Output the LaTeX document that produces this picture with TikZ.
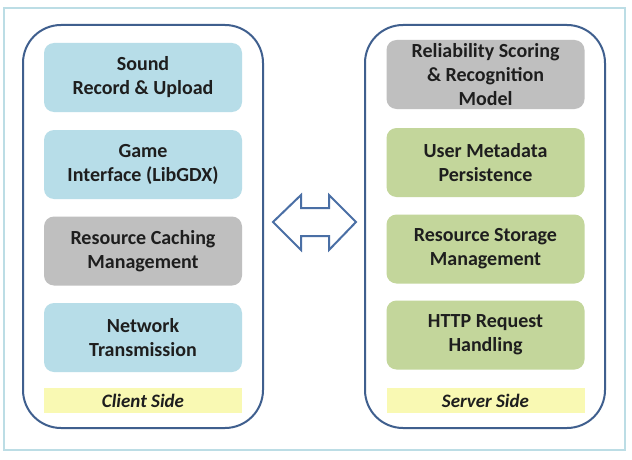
\documentclass[tikz,border=0pt]{standalone}
\usepackage{fontspec}
\setmainfont{Carlito}
\definecolor{frameblue}{HTML}{BCDDE5}
\definecolor{panelblue}{HTML}{3F5F8E}
\definecolor{arrowblue}{HTML}{4A6FA5}
\definecolor{boxblue}{HTML}{B7DDE8}
\definecolor{boxgray}{HTML}{BFBFBF}
\definecolor{boxgreen}{HTML}{C3D69B}
\definecolor{boxyellow}{HTML}{F9F9B3}
\definecolor{txt}{HTML}{1E1E1E}
\tikzset{
  panel/.style={draw=panelblue, line width=2pt, rounded corners=38pt, minimum width=240pt, minimum height=403pt, fill=white},
  block/.style={rounded corners=10pt, minimum width=198pt, minimum height=69pt, align=center, text=txt,
    font=\fontsize{20}{24}\selectfont\bfseries, inner sep=0pt},
  bluebox/.style={block, fill=boxblue},
  graybox/.style={block, fill=boxgray},
  greenbox/.style={block, fill=boxgreen},
  sidelabel/.style={fill=boxyellow, minimum width=198pt, minimum height=25pt, inner sep=0pt, text=txt,
    font=\fontsize{19}{22}\selectfont\bfseries\itshape},
}
\begin{document}
\begin{tikzpicture}[x=1pt,y=-1pt]
\useasboundingbox (0,0) rectangle (632,460);
\fill[white] (0,0) rectangle (632,460);
\node[draw=frameblue, line width=2pt, minimum width=621pt, minimum height=442pt, inner sep=0pt] (frame) at (314.5,229) {};
\node[panel] (client) at (143,226.5) {};
\node[panel] (server) at (485,226.5) {};
\node[bluebox] (sound) at (143,77.5) {Sound\\Record \& Upload};
\node[bluebox] (game) at (143,164.5) {Game\\Interface (LibGDX)};
\node[graybox] (cache) at (143,251) {Resource Caching\\Management};
\node[bluebox] (net) at (143,337.5) {Network\\Transmission};
\node[sidelabel] (clientlbl) at (143,400.5) {Client Side};
\node[graybox] (score) at (485.5,74.5) {Reliability Scoring\\\& Recognition\\Model};
\node[greenbox] (meta) at (485.5,162.5) {User Metadata\\Persistence};
\node[greenbox] (store) at (485.5,249) {Resource Storage\\Management};
\node[greenbox] (http) at (485.5,335) {HTTP Request\\Handling};
\node[sidelabel] (serverlbl) at (485.5,400.5) {Server Side};
\draw[draw=arrowblue, line width=2pt, fill=white, line join=miter]
  (273,222) -- (301,195) -- (301,208) -- (329,208) -- (329,195) -- (356,222)
  -- (329,250) -- (329,236) -- (301,236) -- (301,250) -- cycle;
\end{tikzpicture}
\end{document}
